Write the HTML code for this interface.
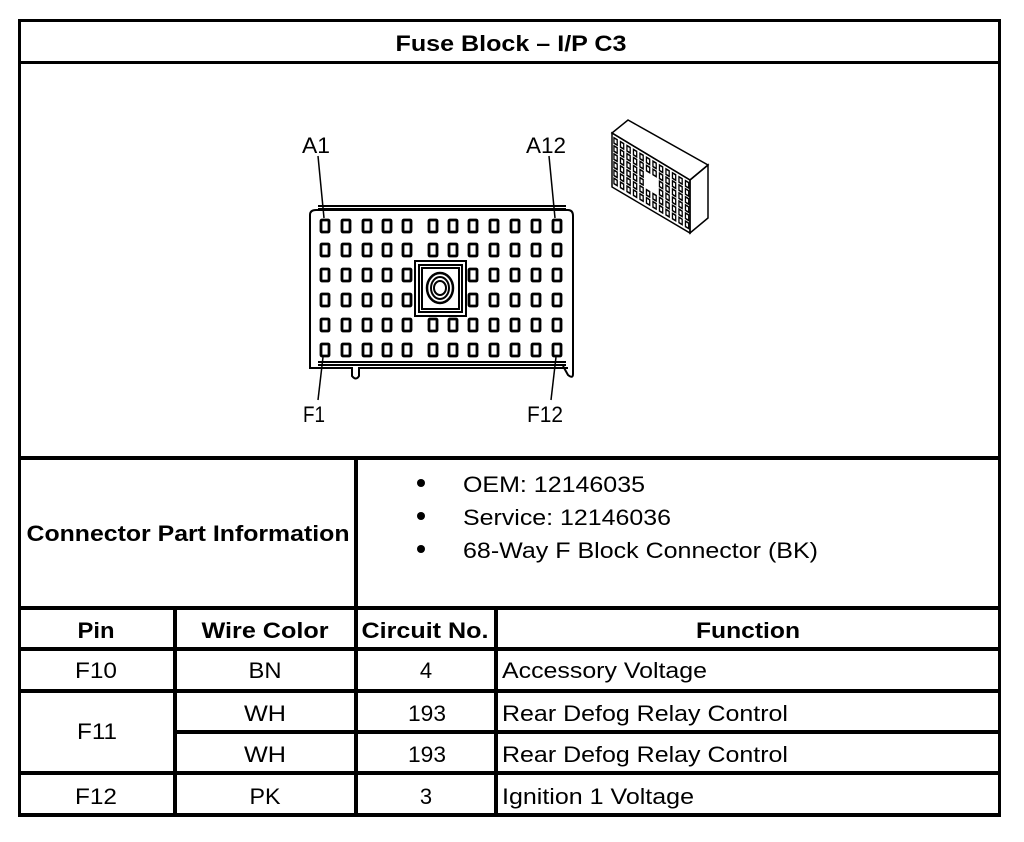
<!DOCTYPE html>
<html><head><meta charset="utf-8"><style>
html,body{margin:0;padding:0;background:#fff;}
svg{display:block;}
text{font-family:"Liberation Sans",Arial,sans-serif;fill:#000;}
.b{font-weight:bold;}
</style></head><body>
<svg width="1024" height="842" viewBox="0 0 1024 842" xmlns="http://www.w3.org/2000/svg">
<g fill="#000">
<rect x="18" y="19" width="983" height="3"/>
<rect x="18" y="19" width="3" height="798"/>
<rect x="998" y="19" width="3" height="798"/>
<rect x="18" y="61" width="983" height="3"/>
<rect x="18" y="456" width="983" height="4"/>
<rect x="354" y="456" width="4" height="153"/>
<rect x="18" y="606" width="983" height="4"/>
<rect x="18" y="647" width="983" height="4"/>
<rect x="18" y="689" width="983" height="4"/>
<rect x="173" y="730" width="828" height="4"/>
<rect x="18" y="771" width="983" height="4"/>
<rect x="18" y="813" width="983" height="4"/>
<rect x="173" y="606" width="4" height="211"/>
<rect x="354" y="606" width="4" height="211"/>
<rect x="494" y="606" width="4" height="211"/>
</g>

<text class="b" x="511" y="51" font-size="22" text-anchor="middle" textLength="231" lengthAdjust="spacingAndGlyphs">Fuse Block – I/P C3</text>

<g fill="none" stroke="#000" stroke-width="2">
<path d="M310,365 L310,215 Q310,210 316,210 L568,210 Q573,210 573,216 L573,374 Q573,379 568,375 L563,366"/>
<path d="M310,365 L310,368 L352,368 L352,376 Q356,381 359,376 L359,368 L568,368"/>
<line x1="318" y1="206" x2="566" y2="206"/>
<line x1="318" y1="209" x2="566" y2="209"/>
<line x1="318" y1="365" x2="566" y2="365"/>
<line x1="318" y1="362" x2="566" y2="362"/>
</g>
<g fill="none" stroke="#000" stroke-width="2.8">
<g id="pins"></g>
</g>
<g fill="none" stroke="#000" stroke-width="2">
<rect x="415" y="261" width="51" height="55"/>
<rect x="419" y="265" width="43" height="47"/>
<rect x="422" y="268" width="37" height="41"/>
<ellipse cx="440" cy="288" rx="13" ry="15" stroke-width="2.5"/>
<ellipse cx="440" cy="288" rx="9" ry="11"/>
<ellipse cx="440" cy="288" rx="6" ry="7"/>
</g>
<g stroke="#000" stroke-width="1.5">
<line x1="318" y1="156" x2="324" y2="218"/>
<line x1="549" y1="156" x2="555" y2="218"/>
<line x1="323" y1="357" x2="318" y2="400"/>
<line x1="556" y1="357" x2="551" y2="400"/>
</g>
<text x="316" y="153" font-size="22" text-anchor="middle" textLength="28" lengthAdjust="spacingAndGlyphs">A1</text>
<text x="546" y="153" font-size="22" text-anchor="middle" textLength="40" lengthAdjust="spacingAndGlyphs">A12</text>
<text x="314" y="422" font-size="22" text-anchor="middle" textLength="22" lengthAdjust="spacingAndGlyphs">F1</text>
<text x="545" y="422" font-size="22" text-anchor="middle" textLength="36" lengthAdjust="spacingAndGlyphs">F12</text>

<g fill="none" stroke="#000" stroke-width="1.5">
<polygon points="612,133 690,180 690,233 612,187"/>
<polygon points="612,133 628,120 708,165 690,180"/>
<polygon points="690,180 708,165 708,218 690,233"/>
<g transform="matrix(0.65,0.39,0,0.9,612,133)" stroke-width="2">
<g id="iso"></g>
</g>
</g>

<text class="b" x="188" y="541" font-size="22" text-anchor="middle" textLength="323" lengthAdjust="spacingAndGlyphs">Connector Part Information</text>
<circle cx="421" cy="483" r="4"/>
<circle cx="421" cy="516" r="4"/>
<circle cx="421" cy="549" r="4"/>
<text x="463" y="492" font-size="22" textLength="182" lengthAdjust="spacingAndGlyphs">OEM: 12146035</text>
<text x="463" y="525" font-size="22" textLength="208" lengthAdjust="spacingAndGlyphs">Service: 12146036</text>
<text x="463" y="558" font-size="22" textLength="355" lengthAdjust="spacingAndGlyphs">68-Way F Block Connector (BK)</text>

<text class="b" x="96" y="638" font-size="22" text-anchor="middle" textLength="37" lengthAdjust="spacingAndGlyphs">Pin</text>
<text class="b" x="265" y="638" font-size="22" text-anchor="middle" textLength="127" lengthAdjust="spacingAndGlyphs">Wire Color</text>
<text class="b" x="425" y="638" font-size="22" text-anchor="middle" textLength="127" lengthAdjust="spacingAndGlyphs">Circuit No.</text>
<text class="b" x="748" y="638" font-size="22" text-anchor="middle" textLength="104" lengthAdjust="spacingAndGlyphs">Function</text>

<g font-size="22">
<text x="96" y="678" text-anchor="middle" textLength="42" lengthAdjust="spacingAndGlyphs">F10</text>
<text x="265" y="678" text-anchor="middle" textLength="33" lengthAdjust="spacingAndGlyphs">BN</text>
<text x="426" y="678" text-anchor="middle">4</text>
<text x="502" y="678" textLength="205" lengthAdjust="spacingAndGlyphs">Accessory Voltage</text>

<text x="97" y="739" text-anchor="middle" textLength="40" lengthAdjust="spacingAndGlyphs">F11</text>
<text x="265" y="721" text-anchor="middle" textLength="42" lengthAdjust="spacingAndGlyphs">WH</text>
<text x="427" y="721" text-anchor="middle" textLength="38" lengthAdjust="spacingAndGlyphs">193</text>
<text x="502" y="721" textLength="286" lengthAdjust="spacingAndGlyphs">Rear Defog Relay Control</text>
<text x="265" y="762" text-anchor="middle" textLength="42" lengthAdjust="spacingAndGlyphs">WH</text>
<text x="427" y="762" text-anchor="middle" textLength="38" lengthAdjust="spacingAndGlyphs">193</text>
<text x="502" y="762" textLength="286" lengthAdjust="spacingAndGlyphs">Rear Defog Relay Control</text>

<text x="96" y="804" text-anchor="middle" textLength="42" lengthAdjust="spacingAndGlyphs">F12</text>
<text x="265" y="804" text-anchor="middle" textLength="31" lengthAdjust="spacingAndGlyphs">PK</text>
<text x="426" y="804" text-anchor="middle">3</text>
<text x="502" y="804" textLength="192" lengthAdjust="spacingAndGlyphs">Ignition 1 Voltage</text>
</g>
</svg>
<script>
(function(){
var NS="http://www.w3.org/2000/svg";
var xs=[325,346,367,387,407,433,453,473,494,515,536,557];
var ys=[226,250,275,300,325,350];
var g=document.getElementById("pins");
for(var r=0;r<6;r++)for(var c=0;c<12;c++){
 if((r==2||r==3)&&(c==5||c==6))continue;
 var e=document.createElementNS(NS,"rect");
 e.setAttribute("x",xs[c]-4);e.setAttribute("y",ys[r]-6);
 e.setAttribute("width",8);e.setAttribute("height",12);e.setAttribute("rx",1);
 g.appendChild(e);
}
var h=document.getElementById("iso");
for(var r=0;r<6;r++)for(var c=0;c<12;c++){
 if((r==2||r==3)&&(c==5||c==6))continue;
 var e=document.createElementNS(NS,"rect");
 e.setAttribute("x",3+c*10);e.setAttribute("y",4+r*9);
 e.setAttribute("width",5);e.setAttribute("height",6);
 h.appendChild(e);
}
})();
</script>
</body></html>
